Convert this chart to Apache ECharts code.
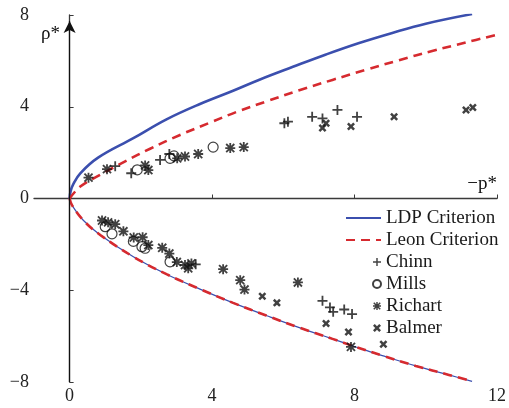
<!DOCTYPE html>
<html>
<head>
<meta charset="utf-8">
<script src="https://cdn.jsdelivr.net/npm/echarts@6/dist/echarts.min.js"></script>
<style>
  html, body { margin: 0; padding: 0; background: #fff; }
  #chart { width: 509px; height: 408px; }
</style>
</head>
<body>
<div id="chart"></div>
<script>
const FONT = '"Liberation Serif", "Times New Roman", serif';

// Axis ticks
const xTicks = [0, 4, 8, 12];
const yTicks = [-8, -4, 0, 4, 8];

// Failure criteria, [−p*, ρ*]
const ldpUpper = [
  [0, 0], [0.03, 0.33], [0.1, 0.62], [0.3, 1.1], [0.8, 1.78], [1.79, 2.63], [2.72, 3.45],
  [3.66, 4.12], [4.59, 4.7], [5.33, 5.18], [6.27, 5.74], [7.2, 6.28],
  [8.13, 6.78], [9.06, 7.22], [10.0, 7.62], [11.3, 8.04]
];
const leonUpper = [
  [0, 0], [0.3, 0.52], [0.86, 1.03], [1.56, 1.62], [2.26, 2.17], [3.1, 2.77],
  [3.93, 3.3], [4.68, 3.77], [5.52, 4.23], [6.45, 4.72], [7.38, 5.17],
  [8.32, 5.61], [9.25, 6.03], [10.18, 6.43], [11.12, 6.8], [12.0, 7.14]
];
// Compression branch shared by both criteria
const criterionLower = [
  [0, 0], [0.07, -0.3], [0.39, -0.96], [0.86, -1.59], [1.79, -2.54],
  [2.72, -3.3], [3.66, -3.95], [4.59, -4.55], [5.52, -5.1], [6.45, -5.63],
  [7.38, -6.12], [8.0, -6.45], [8.78, -6.85], [9.72, -7.3], [10.65, -7.69],
  [11.3, -7.97]
];

// Test results
const chinn = [
  [1.28, 1.41], [1.73, 1.1], [2.54, 1.68], [2.8, 1.94], [6.03, 3.28], [6.13, 3.35],
  [6.81, 3.56], [7.1, 3.49], [7.52, 3.86], [8.07, 3.56],
  [3.54, -2.87], [7.1, -4.46], [7.31, -4.75], [7.4, -4.94], [7.71, -4.84], [7.93, -5.04]
];
const mills = [
  [1.9, 1.25], [2.82, 1.75], [2.93, 1.86], [4.03, 2.24],
  [1.0, -1.23], [1.19, -1.54], [1.79, -1.87], [2.03, -2.1], [2.12, -2.17], [2.82, -2.76]
];
const richart = [
  [0.53, 0.91], [1.05, 1.28], [2.12, 1.44], [2.21, 1.24], [3.02, 1.75], [3.24, 1.83],
  [3.61, 1.94], [4.51, 2.2], [4.89, 2.24],
  [0.91, -0.96], [1.08, -1.04], [1.28, -1.12], [1.51, -1.43], [1.8, -1.7], [2.05, -1.69],
  [2.21, -2.03], [2.6, -2.15], [2.8, -2.4], [3.01, -2.77], [3.24, -2.9], [3.33, -3.04],
  [3.42, -2.83], [4.31, -3.08], [4.79, -3.56], [4.91, -3.97], [6.41, -3.66], [7.9, -6.47]
];
const balmer = [
  [7.1, 3.07], [7.2, 3.28], [7.9, 3.14], [9.11, 3.56], [11.13, 3.86], [11.32, 3.97],
  [5.41, -4.26], [5.82, -4.55], [7.2, -5.45], [7.83, -5.82], [8.81, -6.35]
];

const BLUE = '#3b4fae';
const RED = '#d62a2f';
const INK = '#111111';

// Marker shapes
const PLUS = 'path://M4.1,0h1.8v10h-1.8zM0,4.1h10v1.8h-10z';
const STAR = 'path://M4.1,0h1.8v10h-1.8zM0,4.1h10v1.8h-10zM0.3,1.6L1.6,0.3L9.7,8.4L8.4,9.7zM8.4,0.3L9.7,1.6L1.6,9.7L0.3,8.4z';
const CROSS = 'path://M0,2.2L2.2,0L5,2.8L7.8,0L10,2.2L7.2,5L10,7.8L7.8,10L5,7.2L2.2,10L0,7.8L2.8,5z';

const minus = v => String(v).replace('-', '\u2212');

const chart = echarts.init(document.getElementById('chart'), null, { renderer: 'canvas' });

const lineSeries = (name, data, color, width, dashed, z) => ({
  name, type: 'line', data, showSymbol: false, symbol: 'none',
  smooth: 0.4, z,
  lineStyle: { color, width, type: dashed ? [9, 6] : 'solid', cap: 'butt' },
  itemStyle: { color },
  emphasis: { disabled: true }, silent: true
});

const scatterSeries = (name, data, symbol, size, style) => ({
  name, type: 'scatter', data, symbol, symbolSize: size, symbolKeepAspect: true,
  itemStyle: style, emphasis: { disabled: true }, silent: true, z: 5
});

const legendText = { fontFamily: FONT, fontSize: 19, color: '#1a1a1a', lineHeight: 22 };

chart.setOption({
  animation: false,
  grid: { left: 34, right: 11, top: 15, bottom: 26, containLabel: false },
  xAxis: {
    type: 'value', min: -1, max: 12,
    axisLine: { show: true, lineStyle: { color: '#3a3a3a', width: 1.3 } },
    axisTick: { show: true, inside: true, length: 4, customValues: xTicks, lineStyle: { color: '#3a3a3a' } },
    axisLabel: { customValues: xTicks, margin: 5, color: '#222', fontFamily: FONT, fontSize: 18, formatter: minus },
    splitLine: { show: false }
  },
  yAxis: {
    type: 'value', min: -8, max: 8, interval: 4,
    axisLine: { show: true, lineStyle: { color: '#3a3a3a', width: 1.3 } },
    axisTick: { show: true, inside: true, length: 4, customValues: yTicks, lineStyle: { color: '#3a3a3a' } },
    axisLabel: { customValues: yTicks, margin: 5, color: '#222', fontFamily: FONT, fontSize: 18, formatter: minus },
    splitLine: { show: false }
  },
  legend: [
    {
      data: ['LDP Criterion', 'Leon Criterion'],
      orient: 'vertical', left: 345, top: 207, padding: 0, itemGap: 0,
      itemWidth: 35, itemHeight: 14, selectedMode: false,
      itemStyle: { opacity: 0 },
      textStyle: legendText
    },
    {
      data: ['Chinn', 'Mills', 'Richart', 'Balmer'],
      orient: 'vertical', left: 372, top: 251, padding: 0, itemGap: 0,
      itemWidth: 8, itemHeight: 8, selectedMode: false,
      textStyle: legendText
    }
  ],
  series: [
    // reference axes through the origin
    {
      type: 'line', data: [], clip: false, silent: true, z: 3,
      markLine: {
        silent: true, animation: false,
        symbol: ['none', 'arrow'], symbolSize: [9, 12],
        lineStyle: { color: '#111', width: 1.2, type: 'solid' },
        label: { show: false }, emphasis: { disabled: true },
        data: [
          [{ coord: [0, -8] }, { coord: [0, 7.74] }],
          [{ coord: [-1, 0] }, { coord: [12.07, 0] }]
        ]
      }
    },
    lineSeries('LDP Criterion', ldpUpper, BLUE, 2.6, false, 2),
    lineSeries('LDP Criterion', criterionLower, BLUE, 1.2, false, 2),
    lineSeries('Leon Criterion', leonUpper, RED, 2.6, true, 4),
    lineSeries('Leon Criterion', criterionLower, RED, 2.6, true, 4),
    scatterSeries('Chinn', chinn, PLUS, 10, { color: INK }),
    scatterSeries('Mills', mills, 'circle', 10, { color: 'rgba(255,255,255,0)', borderColor: INK, borderWidth: 1.2 }),
    scatterSeries('Richart', richart, STAR, 10, { color: INK }),
    scatterSeries('Balmer', balmer, CROSS, 8, { color: INK })
  ],
  graphic: [
    { type: 'text', left: 41, top: 25, style: { text: 'ρ*', font: '19px ' + FONT, fill: '#111' } },
    { type: 'text', right: 12, top: 175, style: { text: '\u2212p*', font: '19px ' + FONT, fill: '#111' } }
  ]
});
</script>
</body>
</html>
